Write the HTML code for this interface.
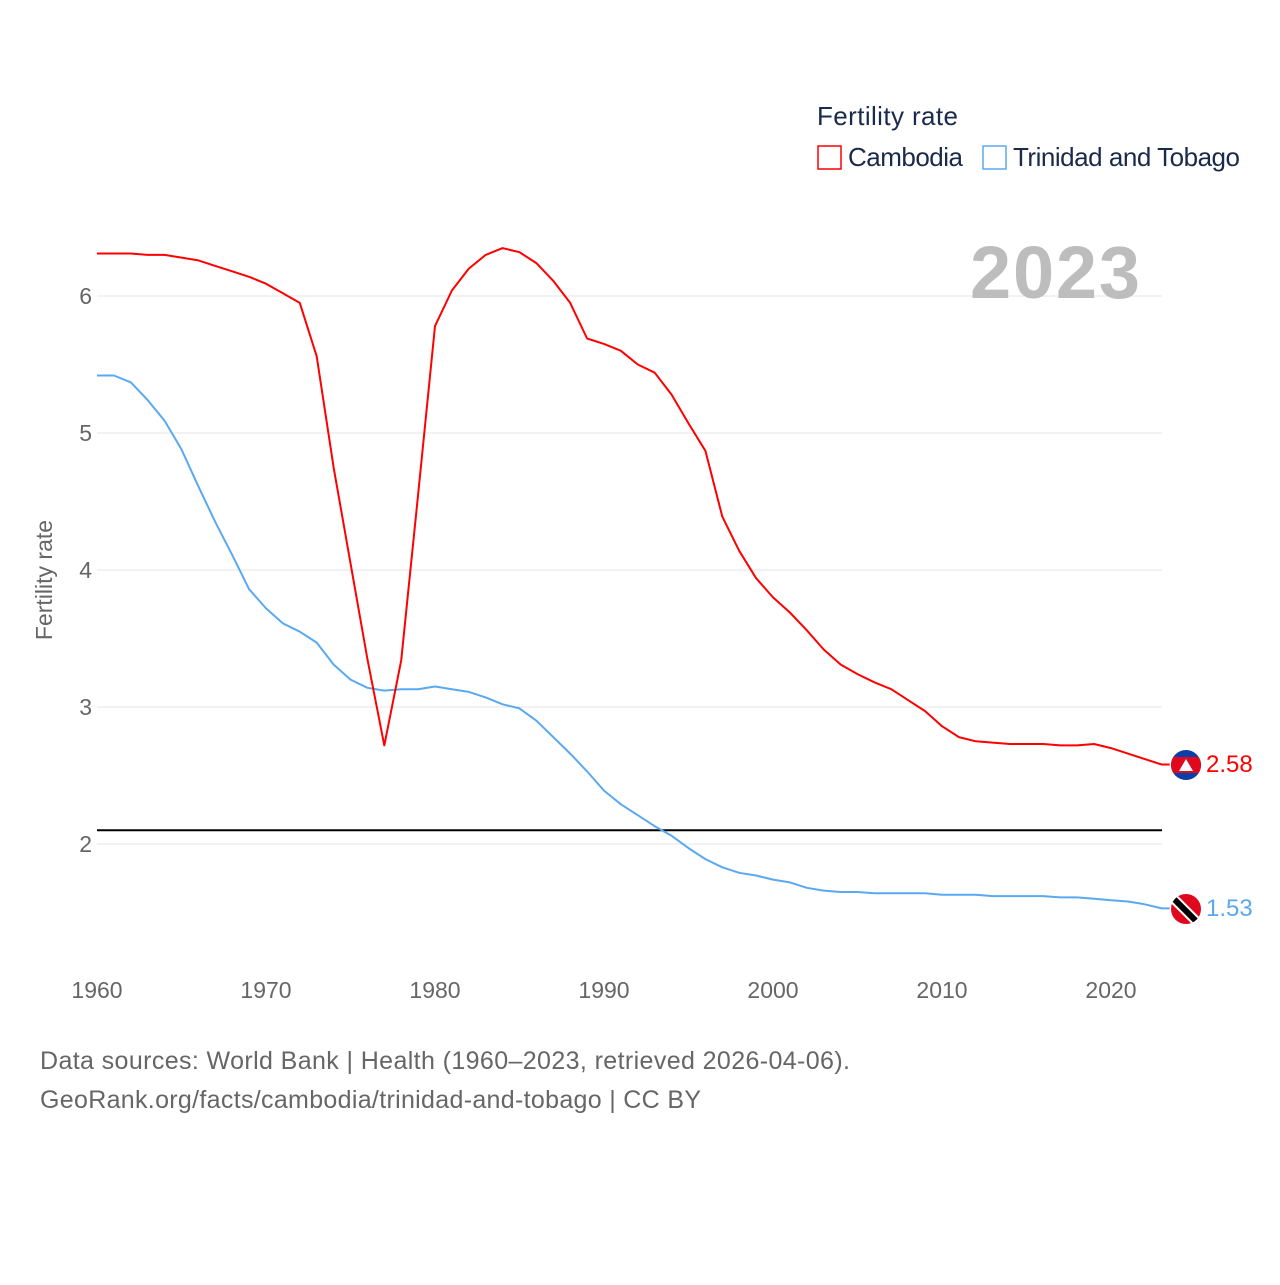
<!DOCTYPE html>
<html><head><meta charset="utf-8"><style>
body{margin:0;background:#fff;font-family:"Liberation Sans",sans-serif;}
svg text{font-family:"Liberation Sans",sans-serif;}
</style></head><body>
<svg id="chart" width="1280" height="1280" xmlns="http://www.w3.org/2000/svg">
<defs><clipPath id="cc"><circle cx="1186" cy="765" r="15"/></clipPath><clipPath id="ct"><circle cx="1186" cy="909" r="15"/></clipPath></defs>
<g id="grid"></g>
<g id="lines"></g>
<text x="1140" y="298" text-anchor="end" font-size="74" font-weight="bold" fill="#bdbdbd" textLength="170">2023</text>
<text x="817" y="125" font-size="26" fill="#1a2a4a" textLength="141">Fertility rate</text>
<g><rect x="818" y="146" width="23" height="23" fill="none" stroke="#f00" stroke-width="1.5"/><text x="848" y="166" font-size="26" fill="#1a2a4a" textLength="115">Cambodia</text></g>
<g><rect x="983" y="146" width="23" height="23" fill="none" stroke="#5aa9f0" stroke-width="1.5"/><text x="1013" y="166" font-size="26" fill="#1a2a4a" textLength="227">Trinidad and Tobago</text></g>
<text transform="translate(52,580) rotate(-90)" text-anchor="middle" font-size="23" fill="#666">Fertility rate</text>
<g clip-path="url(#cc)"><rect x="1170" y="749" width="32" height="32" fill="#0b3ea8"/><rect x="1170" y="757" width="32" height="16" fill="#e0081c"/><path d="M1179 771 L1186 759 L1193 771Z" fill="#fff"/></g>
<g clip-path="url(#ct)"><rect x="1170" y="893" width="32" height="32" fill="#e0081c"/><path d="M1172 897 L1200 925" stroke="#fff" stroke-width="10"/><path d="M1172 897 L1200 925" stroke="#000" stroke-width="6"/></g>
<text x="1206" y="772" font-size="24" fill="#f00">2.58</text>
<text x="1206" y="916" font-size="24" fill="#5aa9f0">1.53</text>
<text x="40" y="1069" font-size="25" fill="#666" textLength="810">Data sources: World Bank | Health (1960–2023, retrieved 2026-04-06).</text>
<text x="40" y="1108" font-size="25" fill="#666" textLength="661">GeoRank.org/facts/cambodia/trinidad-and-tobago | CC BY</text>
</svg>
<script>
const years=[];for(let y=1960;y<=2023;y++)years.push(y);
const cambodia=[6.31,6.31,6.31,6.30,6.30,6.28,6.26,6.22,6.18,6.14,6.09,6.02,5.95,5.56,4.75,4.05,3.35,2.72,3.34,4.55,5.78,6.04,6.20,6.30,6.35,6.32,6.24,6.11,5.95,5.69,5.65,5.60,5.50,5.44,5.28,5.07,4.87,4.39,4.14,3.94,3.80,3.69,3.56,3.42,3.31,3.24,3.18,3.13,3.05,2.97,2.86,2.78,2.75,2.74,2.73,2.73,2.73,2.72,2.72,2.73,2.70,2.66,2.62,2.58];
const trinidad=[5.42,5.42,5.37,5.24,5.09,4.88,4.61,4.35,4.11,3.86,3.72,3.61,3.55,3.47,3.31,3.20,3.14,3.12,3.13,3.13,3.15,3.13,3.11,3.07,3.02,2.99,2.90,2.78,2.66,2.53,2.39,2.29,2.21,2.13,2.06,1.97,1.89,1.83,1.79,1.77,1.74,1.72,1.68,1.66,1.65,1.65,1.64,1.64,1.64,1.64,1.63,1.63,1.63,1.62,1.62,1.62,1.62,1.61,1.61,1.60,1.59,1.58,1.56,1.53];
const yTicks=[2,3,4,5,6];
const xTicks=[1960,1970,1980,1990,2000,2010,2020];
const replacement=[2.1];
const X=v=>97+(v-1960)*(1014/60);
const Y=v=>844-(v-2)*137;
const NS="http://www.w3.org/2000/svg";
const grid=document.getElementById('grid'),lines=document.getElementById('lines');
function mk(tag,attrs,parent){const e=document.createElementNS(NS,tag);for(const k in attrs)e.setAttribute(k,attrs[k]);parent.appendChild(e);return e;}
yTicks.forEach(t=>{
 const l=mk('line',{x1:97,x2:1162,y1:Y(t),y2:Y(t),stroke:'#e6e6e6','stroke-width':1},grid);
 
 
 const tx=mk('text',{x:92,y:Y(t)+8,'text-anchor':'end','font-size':23,fill:'#666'},grid);tx.textContent=t;
 
 
});
xTicks.forEach(t=>{
 const tx=mk('text',{x:X(t),y:998,'text-anchor':'middle','font-size':23,fill:'#666'},grid);tx.textContent=t;
 
 
});
replacement.forEach(v=>{
 const l=mk('line',{x1:97,x2:1162,y1:Y(v),y2:Y(v),stroke:'#000','stroke-width':2},lines);
 
 
});
function series(vals,color,name){
 const d=vals.map((v,i)=>(i?'L':'M')+X(years[i]).toFixed(1)+' '+Y(v).toFixed(1)).join(' ')+' L'+(X(2023)+8)+' '+Y(vals[vals.length-1]).toFixed(1);
 const p=mk('path',{d:d,fill:'none',stroke:color,'stroke-width':2,'stroke-linejoin':'round'},lines);
 
 
}
series(trinidad,'#5aa9f0','trinidad-line');
series(cambodia,'#f00','cambodia-line');
</script>
</body></html>
